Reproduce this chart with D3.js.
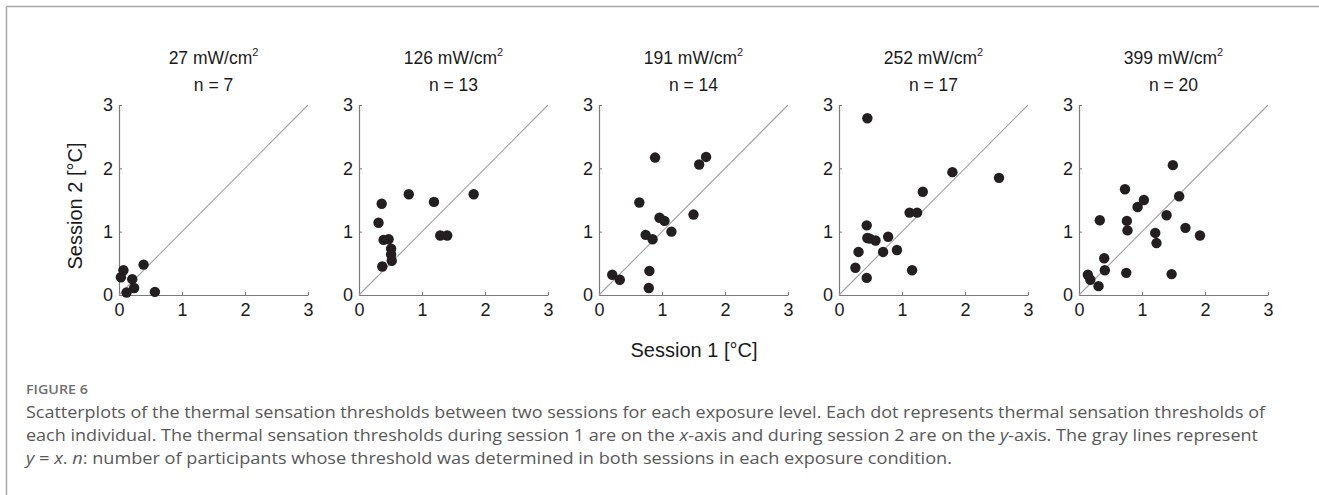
<!DOCTYPE html>
<html>
<head>
<meta charset="utf-8">
<script src="https://cdn.jsdelivr.net/npm/d3@7"></script>
<style>
  html, body { margin: 0; padding: 0; background: #fff; }
  svg { display: block; }
</style>
</head>
<body>
<svg id="chart" width="1319" height="495"></svg>
<script>
// ---- data ----
const powers = ["27", "126", "191", "252", "399"];
const counts = [7, 13, 14, 17, 20];
const ticks = [0, 1, 2, 3];

const s1_27  = [0.39, 0.07, 0.03, 0.21, 0.24, 0.12, 0.57];
const s2_27  = [0.48, 0.39, 0.28, 0.25, 0.11, 0.04, 0.05];

const s1_126 = [0.36, 0.31, 0.79, 1.19, 1.82, 1.29, 1.40, 0.39, 0.47, 0.51, 0.51, 0.52, 0.37];
const s2_126 = [1.44, 1.14, 1.59, 1.47, 1.59, 0.94, 0.94, 0.87, 0.88, 0.73, 0.64, 0.54, 0.45];

const s1_191 = [0.89, 1.70, 1.59, 0.64, 1.50, 0.96, 1.04, 1.15, 0.74, 0.85, 0.21, 0.33, 0.80, 0.79];
const s2_191 = [2.17, 2.18, 2.06, 1.46, 1.27, 1.22, 1.17, 1.00, 0.95, 0.88, 0.32, 0.24, 0.38, 0.11];

const s1_252 = [0.45, 1.80, 2.54, 1.33, 1.12, 1.24, 0.44, 0.45, 0.49, 0.58, 0.78, 0.31, 0.70, 0.92, 0.26, 0.44, 1.16];
const s2_252 = [2.79, 1.94, 1.85, 1.63, 1.30, 1.30, 1.10, 0.90, 0.89, 0.86, 0.92, 0.68, 0.68, 0.71, 0.43, 0.27, 0.39];

const s1_399 = [1.49, 0.73, 1.59, 0.93, 1.03, 0.33, 0.76, 0.77, 1.39, 1.21, 1.23, 1.69, 1.92, 0.40, 0.41, 0.75, 1.47, 0.14, 0.18, 0.31];
const s2_399 = [2.05, 1.67, 1.56, 1.39, 1.50, 1.18, 1.17, 1.02, 1.26, 0.98, 0.82, 1.06, 0.94, 0.58, 0.39, 0.35, 0.33, 0.32, 0.24, 0.14];

const session1 = [s1_27, s1_126, s1_191, s1_252, s1_399];
const session2 = [s2_27, s2_126, s2_191, s2_252, s2_399];

const xLabel = "Session 1 [°C]";
const yLabel = "Session 2 [°C]";
const figLabel = "FIGURE 6";

// ---- layout ----
const svg = d3.select("#chart");
const W = 1319, H = 495;
const panelLeft0 = 119, panelStep = 240, panelW = 189;
const plotTop = 105, plotBottom = 295;
const font = "'Liberation Sans', Arial, sans-serif";
const fsTitle = 17.5, fsTick = 18;

// page frame
svg.append("line").attr("x1", 6.5).attr("x2", 6.5).attr("y1", 6.5).attr("y2", H)
  .attr("stroke", "#a8a8a8").attr("stroke-width", 1.5);
svg.append("line").attr("x1", 6.5).attr("x2", W).attr("y1", 6.5).attr("y2", 6.5)
  .attr("stroke", "#a8a8a8").attr("stroke-width", 1.5);

const y = d3.scaleLinear().domain([0, 3]).range([plotBottom, plotTop]);

powers.forEach((p, i) => {
  const left = panelLeft0 + i * panelStep;
  const x = d3.scaleLinear().domain([0, 3]).range([left, left + panelW]);
  const g = svg.append("g");

  // axes
  const xa = g.append("g").attr("transform", `translate(0,${plotBottom})`)
    .call(d3.axisBottom(x).tickValues(ticks).tickFormat(d3.format("d"))
      .tickSizeInner(-3).tickSizeOuter(0).tickPadding(5));
  const ya = g.append("g").attr("transform", `translate(${left},0)`)
    .call(d3.axisLeft(y).tickValues(ticks).tickFormat(d3.format("d"))
      .tickSizeInner(-3).tickSizeOuter(0).tickPadding(6));
  [xa, ya].forEach(a => {
    a.select(".domain").attr("stroke", "#7a7a7a").attr("stroke-width", 1.2);
    a.selectAll(".tick line").attr("stroke", "#7a7a7a");
    a.selectAll(".tick text").attr("fill", "#1a1a1a")
      .style("font-family", font).style("font-size", fsTick + "px");
  });
  xa.selectAll(".tick text").attr("dy", "0.9em");

  // identity line
  g.append("line")
    .attr("x1", x(0)).attr("y1", y(0)).attr("x2", x(3)).attr("y2", y(3))
    .attr("stroke", "#a3a3a3").attr("stroke-width", 1.1);

  // points
  const pts = session1[i].map((v, k) => [v, session2[i][k]]);
  g.selectAll("circle").data(pts).enter().append("circle")
    .attr("cx", d => x(d[0])).attr("cy", d => y(d[1])).attr("r", 5.2)
    .attr("fill", "#231f20");

  // titles
  const cx = left + panelW / 2;
  const t1 = g.append("text").attr("x", cx).attr("y", 64).attr("text-anchor", "middle")
    .style("font-family", font).style("font-size", fsTitle + "px").attr("fill", "#1a1a1a");
  t1.append("tspan").text(p + " mW/cm");
  t1.append("tspan").attr("dy", -8).style("font-size", "11px").text("2");
  g.append("text").attr("x", cx).attr("y", 91).attr("text-anchor", "middle")
    .style("font-family", font).style("font-size", fsTitle + "px").attr("fill", "#1a1a1a")
    .text("n = " + counts[i]);
});

// axis labels
svg.append("text").attr("x", 694).attr("y", 357).attr("text-anchor", "middle")
  .style("font-family", font).style("font-size", "20px").attr("fill", "#1a1a1a")
  .text(xLabel);
svg.append("text").attr("transform", "translate(82,206) rotate(-90)").attr("text-anchor", "middle")
  .style("font-family", font).style("font-size", "20px").attr("fill", "#1a1a1a")
  .text(yLabel);

// caption
const capFont = "'Open Sans', 'Noto Sans', sans-serif";
const capX = 26;
svg.append("text").attr("x", capX).attr("y", 394)
  .attr("textLength", 62).attr("lengthAdjust", "spacingAndGlyphs")
  .style("font-family", capFont).style("font-size", "12.5px").style("font-weight", 600)
  .attr("fill", "#707070").text(figLabel);

const capLines = [
  { y: 418, len: 1239, parts: [["Scatterplots of the thermal sensation thresholds between two sessions for each exposure level. Each dot represents thermal sensation thresholds of", false]] },
  { y: 441, len: 1232, parts: [["each individual. The thermal sensation thresholds during session 1 are on the ", false], ["x", true], ["-axis and during session 2 are on the ", false], ["y", true], ["-axis. The gray lines represent", false]] },
  { y: 464, len: 926, parts: [["y", true], [" = ", false], ["x", true], [". ", false], ["n", true], [": number of participants whose threshold was determined in both sessions in each exposure condition.", false]] }
];
capLines.forEach(l => {
  const t = svg.append("text").attr("x", capX).attr("y", l.y)
    .attr("textLength", l.len).attr("lengthAdjust", "spacingAndGlyphs")
    .style("font-family", capFont).style("font-size", "16px").attr("fill", "#585858");
  l.parts.forEach(pt => {
    t.append("tspan").style("font-style", pt[1] ? "italic" : "normal").text(pt[0]);
  });
});
</script>
</body>
</html>
